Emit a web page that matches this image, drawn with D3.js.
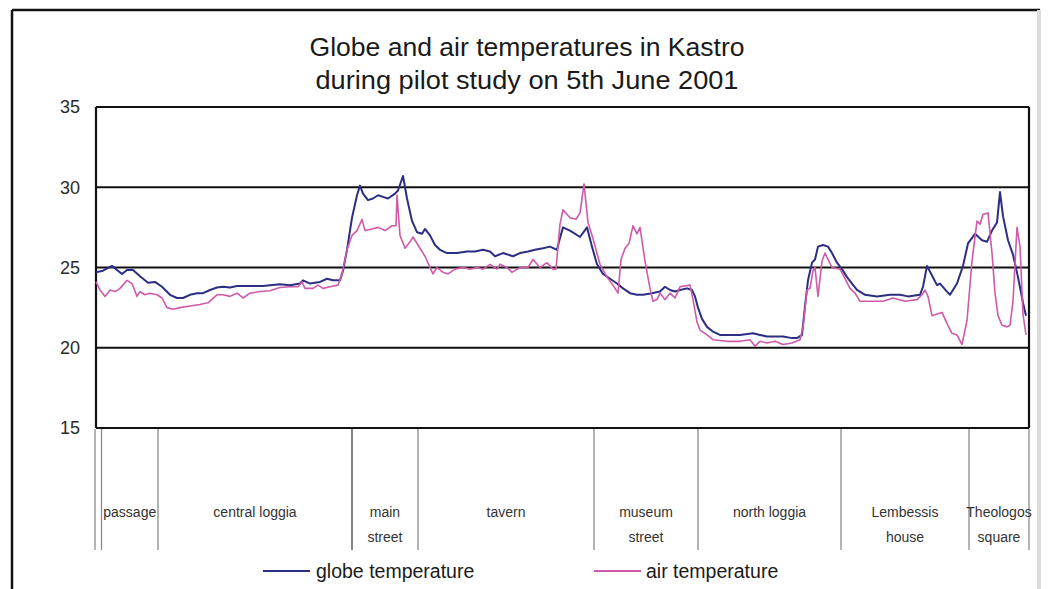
<!DOCTYPE html>
<html>
<head>
<meta charset="utf-8">
<script src="https://cdn.jsdelivr.net/npm/d3@7"></script>
<style>
  html, body { margin: 0; padding: 0; background: #fff; }
  svg { display: block; }
  text { font-family: "Liberation Sans", Arial, sans-serif; }
</style>
</head>
<body>
<svg id="chart" width="1059" height="589"></svg>
<script>
// ---- Data ----
const titleLines = ["Globe and air temperatures in Kastro", "during pilot study on 5th June 2001"];
const yTicks = [15, 20, 25, 30, 35];

// Reading index (position along the walk) and temperatures (°C)
const globeT = [0,1.4,3.2,4.2,5.2,6.2,7.4,8.8,10.4,11.8,13.2,14.8,16.2,17.4,18.8,20.2,21.4,22.8,24.2,25.4,26.8,28.2,30.8,33.4,34.8,36.8,38.8,40.8,41.4,42.8,44.8,46.2,47.4,48.8,49.4,50.2,51.2,52.2,52.8,53.4,54.4,55.4,56.4,57.4,58.4,59.8,60.4,61.4,62.2,63.2,64.2,65.2,65.8,66.8,67.8,68.8,70.2,72.2,74.2,75.8,77.4,78.8,79.8,81.4,83.4,84.8,86.4,87.8,89.4,90.8,92.2,92.6,93.4,94.8,96.8,98.2,99.2,100.2,101.4,102.8,104.2,105.4,106.8,108.2,109.4,111.2,112.8,113.8,114.8,115.8,116.8,118.2,119.2,119.8,120.4,121.2,122.2,123.4,124.8,126.2,128.8,131.4,132.8,134.2,135.8,137.4,139.2,140.2,141.2,141.8,142.4,143.2,143.8,144.4,145.4,146.4,147.2,148.2,149.2,150.2,151.2,152.2,153.8,156.2,158.8,160.8,162.4,164.8,165.4,166.2,167.2,168.2,168.8,170.2,170.8,172.2,173.4,174.4,175.8,177.2,178.2,179.2,180.2,180.8,181.4,182.4,183.4,184.4,185.4,186.0];
const globeV = [24.7,24.8,25.1,24.85,24.6,24.85,24.85,24.45,24.05,24.1,23.8,23.3,23.1,23.1,23.3,23.4,23.4,23.6,23.75,23.8,23.75,23.85,23.85,23.85,23.9,23.95,23.9,24.0,24.2,24.0,24.1,24.3,24.2,24.2,24.8,26.1,28.1,29.5,30.1,29.6,29.2,29.3,29.5,29.4,29.3,29.6,29.8,30.7,29.3,27.9,27.2,27.1,27.4,27.0,26.4,26.1,25.9,25.9,26.0,26.0,26.1,26.0,25.7,25.9,25.7,25.9,26.0,26.1,26.2,26.3,26.1,26.6,27.5,27.3,26.9,27.5,26.3,25.2,24.6,24.3,24.0,23.7,23.4,23.3,23.3,23.4,23.5,23.8,23.6,23.5,23.6,23.7,23.6,23.2,22.5,21.8,21.3,21.0,20.8,20.8,20.8,20.9,20.8,20.7,20.7,20.7,20.6,20.6,20.8,22.6,24.2,25.3,25.5,26.3,26.4,26.3,25.9,25.3,24.9,24.4,24.0,23.6,23.3,23.2,23.3,23.3,23.2,23.3,23.8,25.1,24.5,23.9,24.0,23.5,23.3,24.0,25.1,26.5,27.1,26.7,26.6,27.3,27.8,29.7,28.2,26.7,25.8,24.4,22.8,22.0];

const airT = [0,0.8,1.8,2.8,3.8,4.8,6.2,7.2,8.2,8.8,9.8,10.8,12.2,13.2,14.2,15.4,16.8,18.8,20.8,22.4,24.2,25.4,26.8,28.2,29.4,30.8,32.8,34.8,36.8,38.8,40.4,41.2,41.8,43.4,44.4,45.4,46.8,48.4,49.2,50.2,51.2,52.2,53.2,53.8,55.2,56.4,57.8,59.2,60.0,60.2,60.8,61.8,62.8,63.4,64.4,65.8,66.8,67.4,68.2,69.4,70.4,71.8,73.4,74.8,76.2,77.4,78.8,80.2,80.8,82.2,83.2,84.8,86.4,87.4,88.8,90.2,91.4,92.0,92.8,93.4,94.8,96.0,96.8,97.6,98.4,99.4,100.8,102.2,103.4,104.4,105.0,105.8,106.6,107.4,108.2,108.8,109.8,110.8,111.4,112.2,112.8,113.8,114.8,115.8,116.8,118.8,119.4,120.2,120.8,122.2,123.4,126.2,128.8,130.8,131.8,132.8,134.2,135.8,137.4,139.2,140.8,141.4,142.2,142.8,143.4,143.8,144.4,145.2,145.8,146.4,147.2,148.8,149.8,150.8,151.8,152.8,154.8,157.4,159.4,161.8,164.2,165.2,165.8,166.4,167.2,168.2,169.2,170.2,171.2,172.2,173.2,174.2,175.2,176.2,176.8,177.4,178.4,179.2,179.8,180.4,181.2,182.2,182.8,183.4,184.2,184.8,185.4,186.0];
const airV = [24.1,23.6,23.2,23.6,23.5,23.7,24.2,24.0,23.2,23.5,23.3,23.4,23.3,23.1,22.5,22.4,22.5,22.6,22.7,22.8,23.3,23.3,23.2,23.4,23.1,23.4,23.5,23.55,23.75,23.8,23.8,24.1,23.7,23.7,23.9,23.7,23.8,23.9,24.6,26.1,27.0,27.3,28.0,27.3,27.4,27.5,27.3,27.6,27.6,29.5,27.0,26.2,26.6,26.9,26.4,25.7,25.0,24.6,25.0,24.7,24.6,24.9,25.0,24.9,25.0,24.9,25.2,24.9,25.2,25.0,24.7,25.0,25.0,25.5,25.0,25.3,24.9,24.9,27.7,28.6,28.1,28.0,28.4,30.2,27.8,26.8,25.2,24.4,23.9,23.4,25.5,26.2,26.5,27.6,27.1,27.5,25.4,23.7,22.9,23.0,23.4,23.0,23.4,23.1,23.8,23.9,23.0,21.6,21.1,20.8,20.5,20.4,20.4,20.5,20.1,20.4,20.3,20.4,20.2,20.3,20.5,21.3,23.6,23.7,24.8,25.0,23.2,25.4,25.9,25.5,25.0,24.9,24.3,23.7,23.4,22.9,22.9,22.9,23.1,22.9,23.0,23.3,23.6,23.2,22.0,22.1,22.2,21.5,20.9,20.8,20.2,21.7,25.4,27.9,27.7,28.3,28.4,25.9,23.4,22.0,21.4,21.3,21.4,22.9,27.5,26.3,22.1,20.8];

// Locations along the walk (boundaries in reading index)
const locationBounds = [0, 1.1, 12.4, 51.2, 64.4, 99.6, 120.4, 149.0, 174.6, 186.6];
const locationLabels = [[""], ["passage"], ["central loggia"], ["main", "street"], ["tavern"], ["museum", "street"], ["north loggia"], ["Lembessis", "house"], ["Theologos", "square"]];

const seriesNames = ["globe temperature", "air temperature"];
const seriesColors = ["#2b2e82", "#cf5aa9"];

// ---- Layout ----
const svg = d3.select("#chart");
const plot = { left: 96, right: 1029, top: 107, bottom: 428 };

const x = d3.scaleLinear().domain([0, 186.6]).range([plot.left, plot.right]);
const y = d3.scaleLinear().domain([15, 35]).range([plot.bottom, plot.top]);

// outer frame
svg.append("line").attr("x1", 12).attr("x2", 1040).attr("y1", 10).attr("y2", 10)
  .attr("stroke", "#111").attr("stroke-width", 2.5);
svg.append("line").attr("x1", 12).attr("x2", 12).attr("y1", 10).attr("y2", 589)
  .attr("stroke", "#111").attr("stroke-width", 2.5);
svg.append("line").attr("x1", 1039).attr("x2", 1039).attr("y1", 10).attr("y2", 589)
  .attr("stroke", "#dcdcdc").attr("stroke-width", 4);

// title
const titleWidths = [435, 423];
svg.selectAll("text.title").data(titleLines).join("text")
  .attr("class", "title")
  .attr("x", 527).attr("y", (d, i) => 56 + i * 33)
  .attr("text-anchor", "middle")
  .attr("font-size", 25)
  .attr("textLength", (d, i) => titleWidths[i])
  .attr("lengthAdjust", "spacingAndGlyphs")
  .attr("fill", "#1a1a1a")
  .text(d => d);

// gridlines
svg.append("g").selectAll("line").data(yTicks).join("line")
  .attr("x1", plot.left).attr("x2", plot.right)
  .attr("y1", d => y(d)).attr("y2", d => y(d))
  .attr("stroke", "#111").attr("stroke-width", 2.2);

// plot border sides
svg.append("line").attr("x1", plot.left).attr("x2", plot.left).attr("y1", plot.top).attr("y2", plot.bottom)
  .attr("stroke", "#111").attr("stroke-width", 2.2);
svg.append("line").attr("x1", plot.right).attr("x2", plot.right).attr("y1", plot.top).attr("y2", plot.bottom)
  .attr("stroke", "#111").attr("stroke-width", 2.2);

// y axis labels
const yAxis = d3.axisLeft(y).tickValues(yTicks).tickSize(0).tickPadding(16).tickFormat(d3.format("d"));
const gy = svg.append("g").attr("transform", `translate(${plot.left},0)`).call(yAxis);
gy.select(".domain").remove();
gy.selectAll("text").attr("font-size", 18).attr("fill", "#2a2a2a")
  .attr("font-family", "'Liberation Sans', Arial, sans-serif");

// location separators
svg.append("g").selectAll("line").data(locationBounds).join("line")
  .attr("x1", d => x(d) - (d === 0 ? 1 : 0)).attr("x2", d => x(d) - (d === 0 ? 1 : 0))
  .attr("y1", plot.bottom + 1).attr("y2", 550)
  .attr("stroke", (d, i) => i === 3 ? "#444" : "#8a8a8a")
  .attr("stroke-width", 1.3);

// location labels
const locG = svg.append("g");
locationLabels.forEach((lines, i) => {
  const cx = (x(locationBounds[i]) + x(locationBounds[i + 1])) / 2;
  lines.forEach((s, j) => {
    if (!s) return;
    locG.append("text")
      .attr("x", cx).attr("y", 517 + j * 25)
      .attr("text-anchor", "middle")
      .attr("font-size", 14)
      .attr("fill", "#333")
      .text(s);
  });
});

// lines
const makeLine = d3.line().x(d => x(d[0])).y(d => y(d[1])).curve(d3.curveLinear);
const globe = globeT.map((t, i) => [t, globeV[i]]);
const air = airT.map((t, i) => [t, airV[i]]);

svg.append("path").datum(globe)
  .attr("d", makeLine).attr("fill", "none")
  .attr("stroke", seriesColors[0]).attr("stroke-width", 2).attr("stroke-linejoin", "round");
svg.append("path").datum(air)
  .attr("d", makeLine).attr("fill", "none")
  .attr("stroke", seriesColors[1]).attr("stroke-width", 1.6).attr("stroke-linejoin", "round");

// legend
const legendPos = [{ lx: 263, tx: 316 }, { lx: 594, tx: 646 }];
seriesNames.forEach((name, i) => {
  svg.append("line")
    .attr("x1", legendPos[i].lx).attr("x2", legendPos[i].lx + 47)
    .attr("y1", 571).attr("y2", 571)
    .attr("stroke", seriesColors[i]).attr("stroke-width", 2);
  svg.append("text")
    .attr("x", legendPos[i].tx).attr("y", 578)
    .attr("font-size", 19.5).attr("fill", "#1a1a1a")
    .text(name);
});
</script>
</body>
</html>
